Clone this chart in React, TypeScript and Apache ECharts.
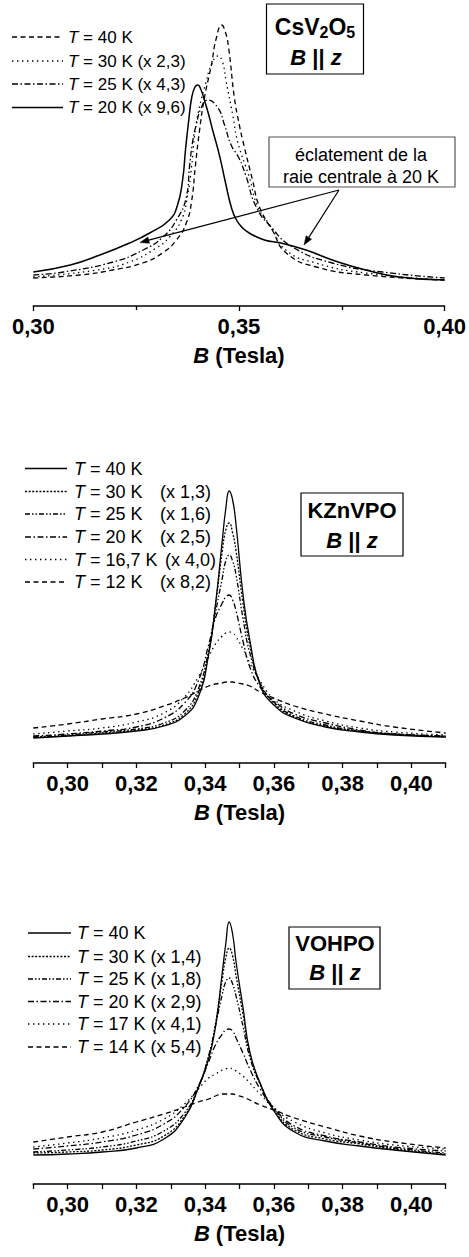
import React, { useEffect, useRef } from "react";
import * as echarts from "echarts";

const FF = '"Liberation Sans", Arial, Helvetica, sans-serif';

// ---------------- Panel 1 : CsV2O5, B || z ----------------
const csB40 = [0.300, 0.3113, 0.3193, 0.3266, 0.3314, 0.3348, 0.3372, 0.3385, 0.3394, 0.3404, 0.3416, 0.3433, 0.3445, 0.3458, 0.3467, 0.3475, 0.3489, 0.3501, 0.3509, 0.3533, 0.3550, 0.3581, 0.3615, 0.3688, 0.3809, 0.400];
const csI40 = [28, 31, 36, 43, 53, 66, 83, 105, 140, 175, 208, 241, 268, 281, 274, 258, 208, 181, 166, 126, 99, 76, 53, 39, 31, 26];
const csB30 = [0.300, 0.3154, 0.3234, 0.3299, 0.3331, 0.3360, 0.3375, 0.3385, 0.3392, 0.3402, 0.3420, 0.3433, 0.3449, 0.3460, 0.3469, 0.3485, 0.3497, 0.3525, 0.3546, 0.3578, 0.3614, 0.3687, 0.3808, 0.400];
const csI30 = [29, 36, 44, 58, 69, 86, 110, 140, 170, 195, 224, 241, 250, 244, 224, 191, 164, 129, 99, 79, 56, 43, 33, 26];
const csB25 = [0.300, 0.3073, 0.3194, 0.3267, 0.3315, 0.3348, 0.3372, 0.3380, 0.3388, 0.3396, 0.3408, 0.3424, 0.3449, 0.3465, 0.3481, 0.3500, 0.3517, 0.3542, 0.3578, 0.3630, 0.3727, 0.3849, 0.400];
const csI25 = [31, 34, 44, 56, 69, 86, 109, 140, 166, 181, 198, 206, 198, 181, 161, 148, 130, 99, 79, 59, 43, 34, 28];
const csB20 = [0.300, 0.309, 0.3162, 0.3234, 0.3283, 0.3331, 0.3350, 0.3363, 0.3370, 0.3378, 0.3385, 0.3393, 0.3400, 0.3407, 0.3416, 0.3426, 0.3436, 0.3453, 0.3468, 0.3482, 0.3494, 0.3509, 0.3525, 0.3562, 0.3602, 0.3663, 0.3727, 0.3808, 0.3889, 0.400];
const csI20 = [34, 41, 51, 63, 73, 86, 100, 126, 156, 186, 208, 219, 221, 217, 206, 192, 176, 150, 122, 98, 86, 78, 73, 66, 63, 56, 46, 36, 29, 26];
const csLegend = ["= 40 K", "= 30 K (x 2,3)", "= 25 K (x 4,3)", "= 20 K (x 9,6)"];

// ---------------- Panel 2 : KZnVPO, B || z ----------------
const kzB = [0.290, 0.300, 0.310, 0.320, 0.328, 0.334, 0.338, 0.341, 0.343, 0.345, 0.346, 0.347, 0.348, 0.349, 0.351, 0.353, 0.356, 0.360, 0.366, 0.375, 0.385, 0.395, 0.410];
const kz40 = [25, 27, 29, 32, 37, 47, 66, 108, 158, 223, 254, 272, 263, 238, 169, 123, 78, 58, 45, 36, 31, 28, 26];
const kz30 = [26, 27, 30, 33, 38, 49, 70, 110, 158, 212, 233, 240, 230, 212, 160, 118, 80, 60, 46, 37, 32, 29, 26];
const kz25 = [26, 28, 31, 34, 40, 52, 74, 112, 150, 185, 202, 208, 202, 188, 145, 110, 80, 61, 47, 38, 32, 29, 27];
const kz20 = [27, 29, 32, 36, 45, 60, 82, 118, 145, 160, 166, 168, 163, 152, 122, 96, 76, 62, 49, 40, 33, 29, 27];
const kz167 = [29, 32, 35, 41, 50, 66, 86, 106, 119, 127, 130, 131, 130, 126, 114, 100, 82, 64, 52, 42, 35, 31, 28];
const kz12 = [35, 39, 44, 49, 57, 65, 72, 77, 79, 80, 81, 81, 81, 80, 79, 77, 71, 65, 57, 49, 42, 36, 30];
const kzTemps = ["= 40 K", "= 30 K", "= 25 K", "= 20 K", "= 16,7 K", "= 12 K"];
const kzFactors = ["", "(x 1,3)", "(x 1,6)", "(x 2,5)", "(x 4,0)", "(x 8,2)"];

// ---------------- Panel 3 : VOHPO, B || z ----------------
const voB = [0.290, 0.300, 0.310, 0.320, 0.328, 0.334, 0.338, 0.341, 0.343, 0.345, 0.346, 0.347, 0.348, 0.349, 0.351, 0.353, 0.356, 0.360, 0.366, 0.375, 0.385, 0.395, 0.410];
const vo40 = [29, 30, 32, 36, 45, 66, 96, 125, 157, 212, 240, 262, 250, 222, 177, 132, 101, 73, 52, 43, 38, 34, 29];
const vo30 = [31, 32, 34, 39, 48, 68, 96, 127, 160, 205, 226, 236, 228, 208, 170, 130, 100, 74, 54, 45, 40, 35, 30];
const vo25 = [32, 34, 37, 43, 53, 71, 97, 128, 158, 190, 202, 206, 200, 188, 158, 127, 100, 76, 56, 47, 41, 36, 31];
const vo20 = [35, 38, 42, 49, 60, 77, 98, 122, 139, 150, 154, 155, 153, 146, 131, 115, 95, 76, 58, 48, 42, 37, 33];
const vo17 = [37, 41, 46, 54, 65, 80, 95, 106, 110, 114, 115, 116, 115, 113, 108, 101, 90, 76, 62, 51, 44, 39, 35];
const vo14 = [42, 47, 52, 62, 70, 77, 82, 85, 88, 90, 90, 90, 90, 89, 87, 84, 79, 74, 66, 57, 48, 42, 36];
const voLegend = ["= 40 K", "= 30 K (x 1,4)", "= 25 K (x 1,8)", "= 20 K (x 2,9)", "= 17 K (x 4,1)", "= 14 K (x 5,4)"];

// line styles
const SOLID: any = "solid";
const DASH = [5, 3.5];
const DOT_SPARSE = [1.4, 3.6];
const DOT_FINE = [2, 1.6];
const DASH_DOT = [6, 2.5, 1.5, 2.5];
const DASH_DOT_DOT = [5, 2, 1.5, 2, 1.5, 2];
const LW = 1.3;

const zip = (b: number[], v: number[]) => b.map((x, i) => [x, v[i]]);

function measure(text: string, font: string) {
  const c = document.createElement("canvas").getContext("2d");
  if (!c) return text.length * 12;
  c.font = font;
  return c.measureText(text).width;
}

function xAxisCfg(gridIndex: number, min: number, max: number, interval: number, fmt: (v: number) => string, minor: boolean) {
  return {
    type: "value",
    gridIndex,
    min,
    max,
    interval,
    axisLine: { show: true, onZero: false, lineStyle: { color: "#000", width: 1.5 } },
    axisTick: { show: true, inside: false, length: 5, interval: 0, lineStyle: { color: "#000", width: 1.3 } },
    minorTick: minor ? { show: true, splitNumber: 2, length: 4, lineStyle: { color: "#000", width: 1.3 } } : { show: false },
    splitLine: { show: false },
    minorSplitLine: { show: false },
    axisLabel: {
      show: true,
      interval: 0,
      formatter: fmt,
      fontFamily: FF,
      fontWeight: "bold",
      fontSize: 22,
      color: "#000",
      margin: 9,
      showMinLabel: true,
      showMaxLabel: true,
    },
    name: "{bi|B}{b| (Tesla)}",
    nameLocation: "middle",
    nameGap: 38,
    nameTextStyle: {
      fontFamily: FF,
      fontSize: 22,
      fontWeight: "bold",
      color: "#000",
      rich: {
        bi: { fontFamily: FF, fontSize: 22, fontWeight: "bold", fontStyle: "italic", color: "#000" },
        b: { fontFamily: FF, fontSize: 22, fontWeight: "bold", color: "#000" },
      },
    },
  };
}

function yAxisCfg(gridIndex: number) {
  return { type: "value", gridIndex, min: 0, max: 300, show: false };
}

function lineSeries(idx: number, data: number[][], type: any, width = LW) {
  return {
    type: "line",
    xAxisIndex: idx,
    yAxisIndex: idx,
    data,
    showSymbol: false,
    symbol: "none",
    smooth: 0.5,
    lineStyle: { color: "#000", width, type },
    silent: true,
  };
}

function legendLine(x1: number, x2: number, y: number, dash: any, width = LW) {
  return {
    type: "line",
    z: 10,
    shape: { x1, y1: y, x2, y2: y },
    style: { stroke: "#000", lineWidth: width, lineDash: dash === "solid" ? null : dash },
  };
}

function legendText(x: number, y: number, rest: string, size: number) {
  return {
    type: "text",
    z: 10,
    x,
    y,
    style: {
      text: "{i|T}{n| " + rest + "}",
      fill: "#000",
      textAlign: "left",
      align: "left",
      textVerticalAlign: "middle",
      verticalAlign: "middle",
      fontFamily: FF,
      fontSize: size,
      rich: {
        i: { fontFamily: FF, fontSize: size, fontStyle: "italic", fill: "#000" },
        n: { fontFamily: FF, fontSize: size, fill: "#000" },
      },
    },
  };
}

function plainText(x: number, y: number, text: string, size: number, weight = "normal", align = "left") {
  return {
    type: "text",
    z: 10,
    x,
    y,
    style: {
      text,
      fill: "#000",
      fontFamily: FF,
      fontSize: size,
      fontWeight: weight,
      textAlign: align,
      align,
      textVerticalAlign: "middle",
      verticalAlign: "middle",
    },
  };
}

function bzText(cx: number, cy: number, size: number) {
  return {
    type: "text",
    z: 11,
    x: cx,
    y: cy,
    style: {
      text: "{bi|B}{b| || }{bi|z}",
      fill: "#000",
      textAlign: "center",
      align: "center",
      textVerticalAlign: "middle",
      verticalAlign: "middle",
      fontFamily: FF,
      fontSize: size,
      fontWeight: "bold",
      rich: {
        bi: { fontFamily: FF, fontSize: size, fontWeight: "bold", fontStyle: "italic", fill: "#000" },
        b: { fontFamily: FF, fontSize: size, fontWeight: "bold", fill: "#000" },
      },
    },
  };
}

function boxRect(x: number, y: number, w: number, h: number, stroke = "#000") {
  return {
    type: "rect",
    z: 9,
    shape: { x, y, width: w, height: h },
    style: { fill: "#fff", stroke, lineWidth: 1.2 },
  };
}

function arrow(x1: number, y1: number, x2: number, y2: number) {
  const dx = x2 - x1;
  const dy = y2 - y1;
  const len = Math.sqrt(dx * dx + dy * dy);
  const ux = dx / len;
  const uy = dy / len;
  const L = 9;
  const Wd = 3.2;
  const bx = x2 - ux * L;
  const by = y2 - uy * L;
  return [
    { type: "line", z: 12, shape: { x1, y1, x2: bx, y2: by }, style: { stroke: "#000", lineWidth: 1.2 } },
    {
      type: "polygon",
      z: 12,
      shape: { points: [[x2, y2], [bx - uy * Wd, by + ux * Wd], [bx + uy * Wd, by - ux * Wd]] },
      style: { fill: "#000", stroke: "#000", lineWidth: 0.5 },
    },
  ];
}

function formulaCsV2O5(cx: number, cy: number) {
  const big = 23;
  const small = 16;
  const parts: [string, number][] = [["CsV", big], ["2", small], ["O", big], ["5", small]];
  const widths = parts.map(([t, s]) => measure(t, `bold ${s}px ${FF}`));
  const total = widths.reduce((a, b) => a + b, 0);
  let x = cx - total / 2;
  const els: any[] = [];
  parts.forEach(([t, s], i) => {
    els.push({
      type: "text",
      z: 11,
      x,
      y: s === big ? cy : cy + 5,
      style: {
        text: t,
        fill: "#000",
        fontFamily: FF,
        fontSize: s,
        fontWeight: "bold",
        textAlign: "left",
        align: "left",
        textVerticalAlign: "middle",
        verticalAlign: "middle",
      },
    });
    x += widths[i];
  });
  return els;
}

function buildOption() {
  const fmtTop = (v: number) => v.toFixed(2).replace(".", ",");
  const fmtMid = (v: number) => {
    const k = Math.round(v * 100);
    return k % 2 === 0 ? (k / 100).toFixed(2).replace(".", ",") : "";
  };

  const graphics: any[] = [];

  // Panel 1 legend
  const csRows = [37, 61, 84, 107.5];
  const csDash = [DASH, DOT_SPARSE, DASH_DOT, SOLID];
  csLegend.forEach((t, i) => {
    graphics.push(legendLine(12, 63, csRows[i], csDash[i], i === 3 ? 1.5 : LW));
    graphics.push(legendText(68, csRows[i], t, 17));
  });
  graphics.push(boxRect(266.5, 4, 97, 70));
  graphics.push(...formulaCsV2O5(315, 27));
  graphics.push(bzText(316, 57, 22));
  graphics.push(boxRect(269, 137, 186, 50, "#555"));
  graphics.push(plainText(361, 155, "éclatement de la", 18, "normal", "center"));
  graphics.push(plainText(361, 177, "raie centrale à 20 K", 18, "normal", "center"));
  graphics.push(...arrow(339, 190, 140, 242.5));
  graphics.push(...arrow(339, 190, 304, 245));

  // Panel 2 legend
  const kzRows = [468.5, 491.5, 514, 537, 559.5, 582];
  const kzDash = [SOLID, DOT_FINE, DASH_DOT_DOT, DASH_DOT, DOT_SPARSE, DASH];
  kzTemps.forEach((t, i) => {
    graphics.push(legendLine(25, 67, kzRows[i], kzDash[i]));
    graphics.push(legendText(74, kzRows[i], t, 18));
    if (kzFactors[i]) graphics.push(plainText(i === 4 ? 165 : 160, kzRows[i], kzFactors[i], 18));
  });
  graphics.push(boxRect(301, 493, 102, 63));
  graphics.push(plainText(352, 510, "KZnVPO", 22, "bold", "center"));
  graphics.push(bzText(352, 540, 22));

  // Panel 3 legend
  const voRows = [933, 956.5, 979, 1001.5, 1024, 1047];
  const voDash = [SOLID, DOT_FINE, DASH_DOT_DOT, DASH_DOT, DOT_SPARSE, DASH];
  voLegend.forEach((t, i) => {
    graphics.push(legendLine(28, 71, voRows[i], voDash[i]));
    graphics.push(legendText(77, voRows[i], t, 18));
  });
  graphics.push(boxRect(289, 927, 91, 62));
  graphics.push(plainText(335, 943.5, "VOHPO", 22, "bold", "center"));
  graphics.push(bzText(335, 972.5, 22));

  return {
    animation: false,
    backgroundColor: "#fff",
    grid: [
      { left: 33.3, top: 6, width: 412.4, height: 300 },
      { left: 33.3, top: 463, width: 412.4, height: 300 },
      { left: 33.3, top: 884, width: 412.4, height: 300 },
    ],
    xAxis: [
      xAxisCfg(0, 0.3, 0.4, 0.05, fmtTop, true),
      xAxisCfg(1, 0.29, 0.41, 0.01, fmtMid, false),
      xAxisCfg(2, 0.29, 0.41, 0.01, fmtMid, false),
    ],
    yAxis: [yAxisCfg(0), yAxisCfg(1), yAxisCfg(2)],
    series: [
      lineSeries(0, zip(csB40, csI40), DASH),
      lineSeries(0, zip(csB30, csI30), DOT_SPARSE),
      lineSeries(0, zip(csB25, csI25), DASH_DOT),
      lineSeries(0, zip(csB20, csI20), SOLID, 1.5),

      lineSeries(1, zip(kzB, kz12), DASH),
      lineSeries(1, zip(kzB, kz167), DOT_SPARSE),
      lineSeries(1, zip(kzB, kz20), DASH_DOT),
      lineSeries(1, zip(kzB, kz25), DASH_DOT_DOT),
      lineSeries(1, zip(kzB, kz30), DOT_FINE),
      lineSeries(1, zip(kzB, kz40), SOLID),

      lineSeries(2, zip(voB, vo14), DASH),
      lineSeries(2, zip(voB, vo17), DOT_SPARSE),
      lineSeries(2, zip(voB, vo20), DASH_DOT),
      lineSeries(2, zip(voB, vo25), DASH_DOT_DOT),
      lineSeries(2, zip(voB, vo30), DOT_FINE),
      lineSeries(2, zip(voB, vo40), SOLID),
    ],
    graphic: { elements: graphics },
  };
}

export default function App() {
  const ref = useRef<HTMLDivElement>(null);
  useEffect(() => {
    if (!ref.current) return;
    const chart = echarts.init(ref.current, null, { renderer: "svg" });
    chart.setOption(buildOption() as any);
    return () => chart.dispose();
  }, []);
  return (
    <div
      ref={ref}
      style={{ position: "absolute", left: 0, top: 0, width: 469, height: 1257, background: "#fff" }}
    />
  );
}
